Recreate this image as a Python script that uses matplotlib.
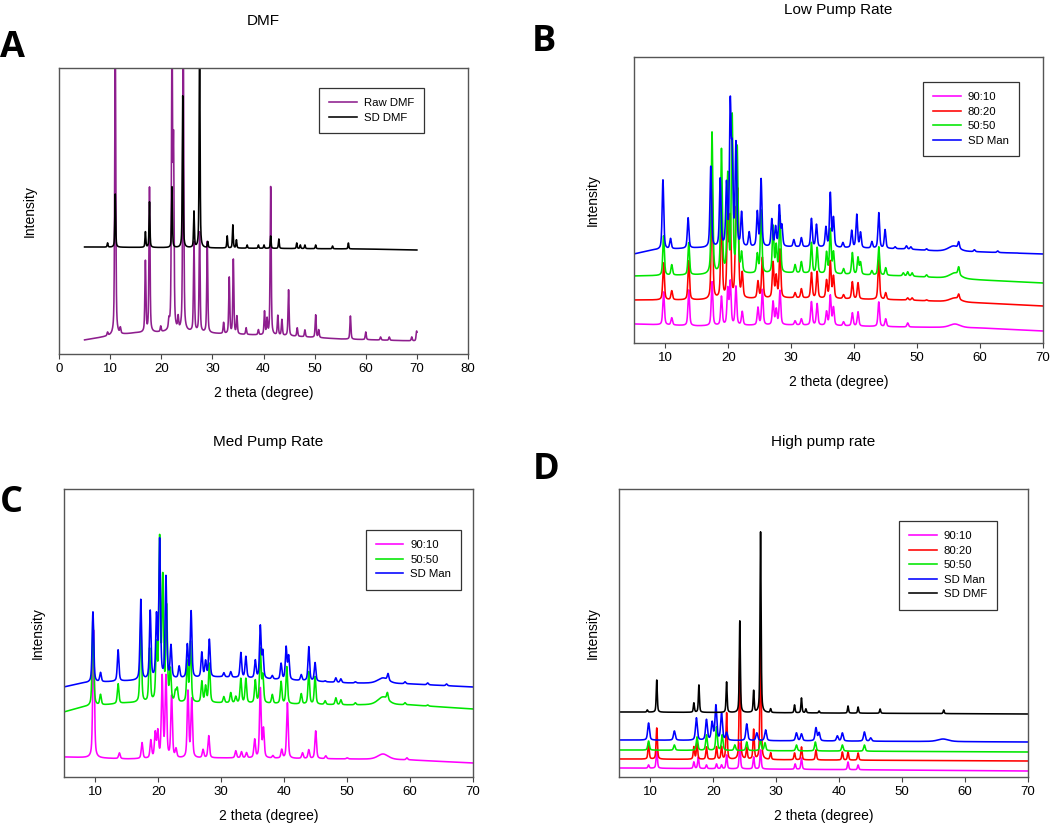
import numpy as np
import matplotlib.pyplot as plt

plt.rcParams['font.family'] = ['Liberation Sans', 'DejaVu Sans']

# 2 theta scan grid
two_theta = np.arange(5, 70.001, 0.02)

# ---- Panel A: DMF (values = level above the axis bottom) ----
A_raw_base = [(5, 14), (10, 18), (15, 21), (25, 22), (32, 20), (45, 18), (55, 15), (70, 13)]
A_raw_peaks = [(9.5, 21), (11.0, 330), (12.0, 25), (16.9, 92), (17.7, 166), (19.9, 27),
               (21.5, 30), (22.1, 330), (22.4, 200), (23.3, 34), (24.3, 330), (26.4, 111),
               (27.5, 121), (29.0, 112), (32.2, 31), (33.3, 76), (34.1, 94), (34.8, 37),
               (36.6, 26), (39.0, 24), (40.2, 42), (40.7, 34), (41.4, 167), (42.8, 38),
               (43.6, 34), (44.9, 64), (46.6, 26), (48.1, 24), (50.2, 39), (50.8, 24),
               (57.0, 38), (60.0, 22), (62.9, 17), (64.6, 17), (69.0, 17), (69.95, 23)]
A_sd_base = [(5, 107), (30, 106), (60, 105), (70, 104)]
A_sd_peaks = [(9.5, 111), (11.0, 160), (16.9, 122), (17.7, 152), (22.1, 167), (24.2, 258),
              (26.4, 142), (27.5, 330), (29.1, 112), (32.9, 118), (34.0, 129), (34.7, 114),
              (36.8, 109), (39.0, 109), (40.1, 109), (41.4, 118), (43.0, 115), (46.5, 111),
              (47.2, 109), (48.1, 109), (50.2, 109), (53.5, 108), (56.6, 111)]

# ---- Panel B: Low pump rate ----
B_9010_base = [(5, 19), (15, 17), (30, 18), (48, 16), (60, 15), (70, 12)]
B_9010_peaks = [(9.7, 51), (11.0, 25), (13.7, 53), (17.4, 61), (18.9, 46), (19.9, 53),
                (20.3, 60), (21.2, 56), (22.2, 31), (24.7, 35), (25.4, 53), (27.1, 41),
                (27.6, 33), (28.2, 52), (30.6, 22), (31.6, 24), (33.2, 41), (34.1, 39),
                (35.6, 31), (36.2, 47), (36.7, 35), (38.3, 21), (39.7, 30), (40.6, 31),
                (43.9, 41), (45.0, 24), (48.5, 20), (56.0, 19, 1.0)]
B_8020_base = [(5, 43), (15, 43), (30, 45), (48, 43), (60, 40), (70, 37)]
B_8020_peaks = [(9.7, 80), (11.0, 52), (13.7, 82), (17.4, 153), (18.9, 131), (19.9, 136),
                (20.3, 121), (21.2, 120), (21.5, 143), (22.2, 68), (24.7, 61), (25.4, 85),
                (27.1, 80), (27.6, 66), (28.2, 93), (30.6, 50), (31.6, 54), (33.2, 70),
                (34.1, 71), (35.6, 62), (36.2, 81), (36.7, 66), (38.3, 48), (39.7, 61),
                (40.6, 60), (43.9, 83), (45.0, 50), (48.5, 45), (49.2, 45), (51.5, 43),
                (56.0, 45, 1.0), (56.6, 46)]
B_5050_base = [(5, 67), (15, 68), (30, 70), (48, 67), (60, 63), (70, 60)]
B_5050_peaks = [(9.7, 107), (11.0, 78), (13.7, 100), (17.4, 210), (18.9, 192), (19.9, 166),
                (20.6, 225), (21.4, 194), (22.1, 88), (24.6, 88), (25.2, 132), (27.1, 116),
                (27.6, 96), (28.2, 126), (30.6, 78), (31.6, 81), (33.2, 100), (34.1, 95),
                (35.6, 90), (36.2, 113), (36.7, 90), (38.3, 74), (39.7, 90), (40.6, 85),
                (41.0, 80), (42.8, 72), (43.9, 96), (45.0, 75), (47.8, 70), (48.5, 71),
                (49.2, 70), (51.5, 68), (56.0, 70, 1.0), (56.6, 72)]
B_man_base = [(5, 89), (8, 93), (15, 95), (30, 96), (48, 94), (53, 92), (60, 91), (70, 89)]
B_man_peaks = [(9.6, 163), (10.8, 104), (13.6, 125), (17.2, 176), (18.7, 163), (19.7, 156),
               (20.3, 232), (20.6, 180), (21.2, 197), (22.1, 129), (23.3, 110), (24.6, 130),
               (25.2, 163), (26.9, 123), (27.5, 115), (28.1, 136), (28.5, 116), (30.4, 103),
               (31.6, 105), (33.2, 124), (34.0, 118), (35.5, 115), (36.2, 149), (36.7, 124),
               (38.2, 100), (39.6, 112), (40.4, 128), (41.0, 110), (42.8, 101), (43.9, 130),
               (44.9, 113), (46.5, 96), (48.3, 97), (49.0, 96), (51.5, 94), (55.8, 97, 1.0),
               (56.6, 98), (59.1, 93), (62.8, 92), (65.8, 90)]

# ---- Panel C: Med pump rate ----
C_9010_base = [(5, 20), (15, 18), (30, 19), (50, 18), (60, 17), (70, 14)]
C_9010_peaks = [(9.7, 147), (13.8, 24), (17.4, 34), (18.8, 36), (19.5, 43), (19.9, 44),
                (20.6, 99), (21.2, 99), (22.1, 80), (22.8, 27), (24.7, 85), (25.3, 77),
                (27.1, 27), (28.0, 41), (32.3, 26), (33.2, 25), (34.0, 24), (35.3, 37),
                (36.2, 88), (36.7, 47), (38.2, 21), (39.6, 27), (40.5, 74), (42.9, 24),
                (43.9, 27), (45.0, 46), (46.6, 21), (50.0, 19), (55.7, 23, 1.0), (59.5, 19)]
C_5050_base = [(5, 65), (8, 70), (15, 74), (30, 74), (50, 72), (60, 72), (70, 68)]
C_5050_peaks = [(9.6, 160), (10.8, 82), (13.6, 93), (17.2, 154), (18.6, 127), (19.7, 128),
                (20.2, 234), (20.7, 194), (21.3, 167), (21.9, 105), (22.7, 84), (23.0, 87),
                (24.6, 114), (25.1, 134), (26.9, 95), (27.5, 90), (28.1, 113), (30.4, 80),
                (31.5, 84), (32.3, 80), (33.1, 98), (33.9, 98), (35.4, 96), (36.2, 127),
                (36.6, 100), (38.1, 82), (39.5, 95), (40.4, 110), (42.7, 83), (43.9, 105),
                (44.9, 100), (46.5, 76), (48.2, 79), (49.0, 77), (51.3, 74),
                (55.7, 80, 1.0), (56.4, 79), (59.2, 74), (62.8, 72)]
C_man_base = [(5, 90), (8, 94), (15, 96), (30, 100), (50, 94), (60, 93), (70, 90)]
C_man_peaks = [(9.6, 165), (10.8, 104), (13.6, 127), (17.2, 177), (18.7, 165), (19.7, 158),
               (20.2, 235), (21.2, 199), (22.0, 130), (23.3, 110), (24.6, 131), (25.2, 165),
               (26.9, 124), (27.5, 115), (28.1, 137), (30.4, 104), (31.5, 105), (33.1, 124),
               (33.9, 120), (35.4, 116), (36.2, 150), (36.6, 124), (38.1, 101), (39.5, 113),
               (40.3, 129), (40.7, 120), (42.7, 102), (43.9, 130), (44.9, 114), (46.5, 96),
               (48.2, 99), (49.0, 98), (51.3, 95), (55.7, 99, 1.0), (56.5, 100), (59.2, 95),
               (62.8, 94), (65.8, 93)]

# ---- Panel D: High pump rate ----
D_9010_base = [(5, 9), (70, 6)]
D_9010_peaks = [(9.7, 12), (11.0, 27), (16.9, 15), (17.6, 20), (18.9, 12), (20.5, 13),
                (21.3, 12), (22.1, 22), (24.2, 34), (26.4, 20), (27.5, 27), (33.0, 13),
                (34.0, 19), (41.4, 15), (43.0, 12)]
D_8020_base = [(5, 18), (70, 16)]
D_8020_peaks = [(9.7, 34), (11.0, 49), (16.9, 30), (17.4, 34), (18.9, 30), (20.5, 30),
                (21.3, 30), (22.1, 64), (24.2, 120), (25.3, 29), (26.4, 47), (27.5, 137),
                (29.1, 24), (32.9, 24), (34.0, 30), (36.3, 27), (40.5, 25), (41.4, 25),
                (43.0, 24)]
D_5050_base = [(5, 27), (70, 25)]
D_5050_peaks = [(9.7, 36), (13.8, 32), (17.4, 40), (18.9, 42), (20.5, 50), (21.4, 42),
                (23.4, 32), (25.3, 35), (27.5, 37), (28.2, 34), (33.2, 32), (36.2, 35),
                (40.5, 32), (44.0, 32)]
D_man_base = [(5, 37), (70, 35)]
D_man_peaks = [(9.7, 54), (13.8, 46), (17.3, 59), (18.9, 57), (19.8, 54), (20.4, 71),
               (21.3, 63), (22.1, 44), (25.3, 53), (26.9, 44), (28.3, 47), (33.2, 44),
               (34.0, 43), (36.3, 49), (36.8, 44), (39.7, 41), (40.5, 44), (44.0, 45),
               (45.0, 39), (56.5, 38, 1.0)]
D_sd_base = [(5, 65), (70, 63)]
D_sd_peaks = [(9.5, 67), (11.0, 97), (16.9, 74), (17.7, 92), (22.1, 95), (24.2, 156),
              (26.4, 86), (27.5, 245), (29.1, 68), (32.9, 72), (34.0, 79), (34.7, 68),
              (36.8, 66), (41.4, 71), (43.0, 70), (46.5, 68), (56.6, 67)]

MAGENTA = '#FF00FF'
RED = '#FF0000'
GREEN = '#00E600'
BLUE = '#0000FF'
BLACK = '#000000'
PURPLE = '#8E1E8E'


def pattern(base, peaks, width=0.15):
    bx, by = zip(*base)
    y = np.interp(two_theta, bx, by)
    out = y.copy()
    for p in peaks:
        pos, top = p[0], p[1]
        w = p[2] if len(p) > 2 else width
        amp = top - np.interp(pos, bx, by)
        d = (two_theta - pos) / w
        out += amp * (0.5 / (1 + d ** 2) + 0.5 * np.exp(-np.log(2) * d ** 2))
    return out


fig = plt.figure(figsize=(10.5, 8.24), dpi=100)
W, H = 1050, 824


def make_axes(left, top, right, bottom):
    return fig.add_axes([left / W, 1 - bottom / H, (right - left) / W, (bottom - top) / H])


def style(ax, title, xlim, xticks, height, ylabelpad):
    ax.set_xlim(*xlim)
    ax.set_ylim(0, height)
    ax.set_xticks(xticks)
    ax.set_yticks([])
    ax.tick_params(axis='x', direction='out', length=3.5, width=0.8, pad=3,
                   labelsize=9.5, color='#444444')
    for s in ax.spines.values():
        s.set_color('#555555')
        s.set_linewidth(1.0)
    ax.set_title(title, fontsize=11, pad=31)
    ax.set_xlabel('2 theta (degree)', fontsize=10, labelpad=8)
    ax.set_ylabel('Intensity', fontsize=10, labelpad=ylabelpad)


def legend(ax, x0, y0):
    leg = ax.legend(loc='upper left', bbox_to_anchor=(x0, y0), fontsize=8.2,
                    fancybox=False, framealpha=1, edgecolor='#333333',
                    handlelength=2.4, handletextpad=0.6, labelspacing=0.4,
                    borderpad=0.9, borderaxespad=0)
    leg.get_frame().set_linewidth(0.9)


lw = 1.15

# A
axA = make_axes(59, 68, 468, 354)
axA.plot(two_theta, pattern(A_raw_base, A_raw_peaks, 0.12), color=PURPLE, lw=lw, label='Raw DMF')
axA.plot(two_theta, pattern(A_sd_base, A_sd_peaks, 0.1), color=BLACK, lw=lw, label='SD DMF')
style(axA, 'DMF', (0, 80), np.arange(0, 81, 10), 286, 16)
legend(axA, 0.636, 0.930)

# B
axB = make_axes(634, 57, 1043, 343)
axB.plot(two_theta, pattern(B_9010_base, B_9010_peaks), color=MAGENTA, lw=lw, label='90:10')
axB.plot(two_theta, pattern(B_8020_base, B_8020_peaks), color=RED, lw=lw, label='80:20')
axB.plot(two_theta, pattern(B_5050_base, B_5050_peaks), color=GREEN, lw=lw, label='50:50')
axB.plot(two_theta, pattern(B_man_base, B_man_peaks), color=BLUE, lw=lw, label='SD Man')
style(axB, 'Low Pump Rate', (5, 70), np.arange(10, 71, 10), 286, 25)
legend(axB, 0.707, 0.913)

# C
axC = make_axes(64, 489, 473, 777)
axC.plot(two_theta, pattern(C_9010_base, C_9010_peaks), color=MAGENTA, lw=lw, label='90:10')
axC.plot(two_theta, pattern(C_5050_base, C_5050_peaks), color=GREEN, lw=lw, label='50:50')
axC.plot(two_theta, pattern(C_man_base, C_man_peaks), color=BLUE, lw=lw, label='SD Man')
style(axC, 'Med Pump Rate', (5, 70), np.arange(10, 71, 10), 288, 14)
legend(axC, 0.738, 0.858)

# D
axD = make_axes(619, 489, 1028, 777)
axD.plot(two_theta, pattern(D_9010_base, D_9010_peaks, 0.12), color=MAGENTA, lw=lw, label='90:10')
axD.plot(two_theta, pattern(D_8020_base, D_8020_peaks, 0.12), color=RED, lw=lw, label='80:20')
axD.plot(two_theta, pattern(D_5050_base, D_5050_peaks), color=GREEN, lw=lw, label='50:50')
axD.plot(two_theta, pattern(D_man_base, D_man_peaks, 0.17), color=BLUE, lw=lw, label='SD Man')
axD.plot(two_theta, pattern(D_sd_base, D_sd_peaks, 0.1), color=BLACK, lw=lw, label='SD DMF')
style(axD, 'High pump rate', (5, 70), np.arange(10, 71, 10), 288, 14)
legend(axD, 0.685, 0.889)

# panel letters
for letter, x, y in [('A', 0, 30), ('B', 532, 24), ('C', 0, 485), ('D', 533, 452)]:
    fig.text(x / W, 1 - y / H, letter, fontsize=26, fontweight='bold',
             family=['Open Sans', 'DejaVu Sans'], ha='left', va='top')

fig.savefig('out.png', dpi=100)
